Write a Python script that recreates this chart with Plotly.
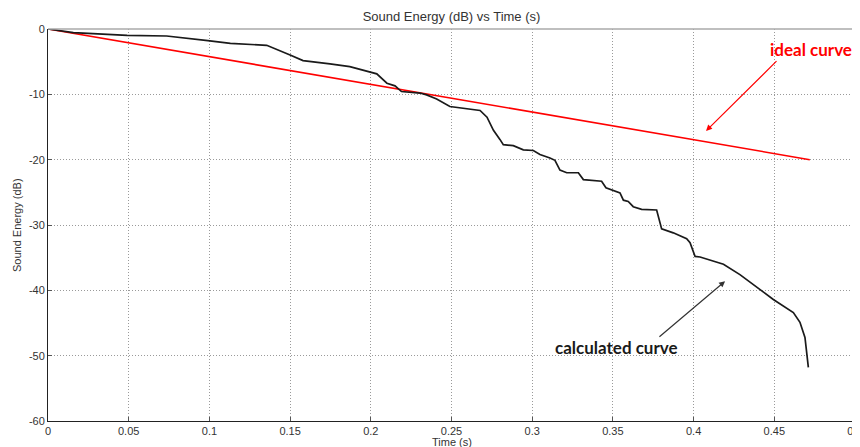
import plotly.graph_objects as go

# Calculated curve (black)
calc_t = [0.0, 0.0157, 0.049, 0.0735, 0.099, 0.113, 0.1355, 0.1437, 0.15, 0.158, 0.1685,
          0.1747, 0.187, 0.1954, 0.2037, 0.21, 0.215, 0.219, 0.2305, 0.2346, 0.2408,
          0.249, 0.2594, 0.2677, 0.272, 0.276, 0.28, 0.2821, 0.2883, 0.2945, 0.3007,
          0.3048, 0.311, 0.3141, 0.3172, 0.3214, 0.3286, 0.3317, 0.343, 0.3457, 0.3544,
          0.3565, 0.3595, 0.3626, 0.3678, 0.3771, 0.3802, 0.3874, 0.3957, 0.3978, 0.4009,
          0.404, 0.4185, 0.4287, 0.4494, 0.4618, 0.4659, 0.469, 0.4711]
calc_db = [0.0, -0.56, -0.97, -1.07, -1.78, -2.2, -2.5, -3.3, -3.97, -4.84, -5.1,
           -5.34, -5.75, -6.37, -6.87, -8.3, -8.7, -9.57, -9.8, -10.08, -10.7,
           -11.86, -12.2, -12.47, -13.5, -15.5, -16.9, -17.7, -17.86, -18.5, -18.6,
           -19.2, -19.75, -20.1, -21.6, -22.0, -22.0, -23.05, -23.3, -24.3, -25.1,
           -26.2, -26.4, -27.2, -27.6, -27.7, -30.6, -31.2, -32.1, -32.7, -34.8,
           -34.9, -36.0, -37.6, -41.4, -43.4, -44.9, -47.2, -51.8]

# Ideal curve (red)
ideal_t = [0.0, 0.472]
ideal_db = [0.0, -20.0]

x_ticks = [0, 0.05, 0.1, 0.15, 0.2, 0.25, 0.3, 0.35, 0.4, 0.45, 0.5]
x_tick_labels = ["0", "0.05", "0.1", "0.15", "0.2", "0.25", "0.3", "0.35", "0.4", "0.45", "0.5"]
y_ticks = [0, -10, -20, -30, -40, -50, -60]
y_tick_labels = ["0", "-10", "-20", "-30", "-40", "-50", "-60"]

fig = go.Figure()
fig.add_trace(go.Scatter(x=ideal_t, y=ideal_db, mode="lines",
                         line=dict(color="#ff0000", width=1.6), showlegend=False))
fig.add_trace(go.Scatter(x=calc_t, y=calc_db, mode="lines",
                         line=dict(color="#1a1a1a", width=1.7), showlegend=False))

narrow = "Liberation Sans Narrow, Arial Narrow, Liberation Sans, sans-serif"
tickfont = dict(family=narrow, size=11, color="#333333")
grid = dict(showgrid=True, gridcolor="#9a9a9a", griddash="1px,2px", gridwidth=1,
            zeroline=False, showline=True, linecolor="#222222", linewidth=1,
            ticks="inside", ticklen=4, tickcolor="#555555", tickfont=tickfont,
            ticklabeloverflow="allow", automargin=False)

# the page body has an 8px margin, so the figure is sized to fill the rest of the window
fig.update_layout(
    width=852, height=439,
    margin=dict(l=40, r=5, t=21, b=26),
    plot_bgcolor="white", paper_bgcolor="white",
    title=dict(text="Sound Energy (dB) vs Time (s)", x=0.5, xanchor="center",
               xref="paper", y=1 - 8 / 439, yanchor="middle",
               font=dict(family="Liberation Sans, Arial, sans-serif", size=13, color="#333333")),
    xaxis=dict(range=[0, 0.5], tickvals=x_ticks, ticktext=x_tick_labels, **grid),
    yaxis=dict(range=[-60, 0], tickvals=y_ticks, ticktext=y_tick_labels, **grid),
)

# axis titles
fig.add_annotation(xref="paper", yref="paper", x=0.5, y=0, yanchor="top", yshift=-13,
                   text="Time (s)", showarrow=False,
                   font=dict(family=narrow, size=11, color="#333333"))
fig.add_annotation(xref="paper", yref="paper", x=0, y=0.5, xanchor="center", xshift=-31,
                   text="Sound Energy (dB)", textangle=-90, showarrow=False,
                   font=dict(family=narrow, size=11, color="#333333"))

# gray frame on top and right
fig.add_shape(type="line", xref="paper", yref="paper", x0=0, x1=1, y0=1, y1=1,
              line=dict(color="#aaaaaa", width=1.5))
fig.add_shape(type="line", xref="paper", yref="paper", x0=1, x1=1, y0=0, y1=1,
              line=dict(color="#aaaaaa", width=1.5))

ann_font = "Lato, Open Sans, sans-serif"
# ideal curve label + arrow
fig.add_annotation(x=0.4077, y=-15.6, ax=0.4523, ay=-4.7, axref="x", ayref="y",
                   xref="x", yref="y", text="", showarrow=True,
                   arrowhead=2, arrowsize=1, arrowwidth=1.2, arrowcolor="#ff0000")
fig.add_annotation(x=0.4725, y=-3.1, xref="x", yref="y", text="<b>ideal curve</b>",
                   showarrow=False, font=dict(family=ann_font, size=17, color="#ff0000"))
# calculated curve label + arrow
fig.add_annotation(x=0.4195, y=-38.6, ax=0.3779, ay=-47.3, axref="x", ayref="y",
                   xref="x", yref="y", text="", showarrow=True,
                   arrowhead=2, arrowsize=1, arrowwidth=1.2, arrowcolor="#333333")
fig.add_annotation(x=0.352, y=-48.8, xref="x", yref="y", text="<b>calculated curve</b>",
                   showarrow=False, font=dict(family=ann_font, size=17, color="#1a1a1a"))

fig.write_html("out.html")
